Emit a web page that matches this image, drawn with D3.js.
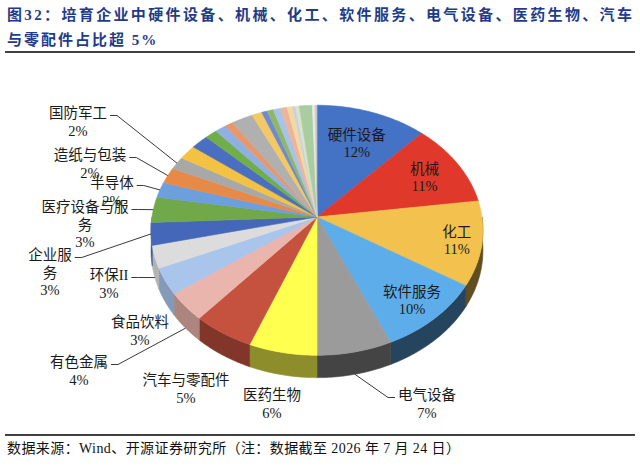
<!DOCTYPE html>
<html>
<head>
<meta charset="utf-8">
<script src="https://cdn.jsdelivr.net/npm/d3@7"></script>
<style>
  body { margin: 0; background: #fff; }
  text { font-family: "Liberation Serif", "Noto Sans CJK SC", serif; }
</style>
</head>
<body>
<svg id="chart" width="640" height="468"></svg>
<script>
// labelled industries, clockwise from 12 o'clock
var names = ["硬件设备", "机械", "化工", "软件服务", "电气设备", "医药生物", "汽车与零配件",
  "有色金属", "食品饮料", "环保II", "企业服务", "医疗设备与服务", "半导体", "造纸与包装", "国防军工"];
var values = [12.0, 10.9, 10.9, 9.6, 6.6, 6.0, 5.4, 3.7, 3.4, 2.9, 2.9, 3.3, 2.0, 2.1, 1.7];
var colors = ["#4472C4", "#E0392B", "#F3C24E", "#5DADEB", "#9B9B9B", "#FFFF4F", "#C4523E",
  "#E9B5AC", "#A9C5EC", "#DCDCDC", "#4467BA", "#70A84A", "#6C9FDC", "#E78A48", "#A8A8A8"];

// small unlabelled slices that follow (top-left of the pie)
var minorValues = [1.9, 1.9, 1.3, 1.2, 0.9, 2.3, 1.1, 0.6, 0.7, 0.8, 0.7, 0.6, 0.3, 0.4, 1.4, 0.3, 0.2];
var minorColors = ["#F4C242", "#4A6FC0", "#72AD4C", "#8FB0E0", "#E9976A", "#B0B0B0", "#F3C865", "#6F8AD0",
  "#8DB86A", "#A9C2E8", "#EEB49A", "#F2D9A0", "#C4D1E8", "#D9E4C6", "#A9CCA0", "#E8E8E8", "#C8C8C8"];

var titleLines = ["图32：培育企业中硬件设备、机械、化工、软件服务、电气设备、医药生物、汽车",
  "与零配件占比超 5%"];
var sourceText = "数据来源：Wind、开源证券研究所（注：数据截至 2026 年 7 月 24 日）";

// label placement (layout only)
var insideR = { "硬件设备": 0.7, "机械": 0.76, "化工": 0.85, "软件服务": 0.82 };
var outside = {
  "电气设备":      { x: 427, y: 400, dir: -1, leader: true },
  "医药生物":      { x: 272, y: 400, leader: false },
  "汽车与零配件":  { x: 186, y: 385, leader: false },
  "有色金属":      { x: 79,  y: 367, dir: 1, leader: true },
  "食品饮料":      { x: 140, y: 327, leader: false },
  "环保II":        { x: 109, y: 280, dir: 1, leader: true },
  "企业服务":      { x: 50,  y: 260, dir: 1, leader: true, wrap: 3 },
  "医疗设备与服务": { x: 85, y: 212, dir: 1, leader: true, wrap: 6 },
  "半导体":        { x: 112, y: 188, dir: 1, leader: true },
  "造纸与包装":    { x: 90,  y: 160, dir: 1, leader: true },
  "国防军工":      { x: 78,  y: 118, dir: 1, leader: true }
};

var svg = d3.select("#chart");
svg.append("rect").attr("width", 640).attr("height", 468).attr("fill", "#fff");

// title
var title = svg.append("g").attr("fill", "#1F3C88").attr("font-weight", "bold").attr("font-size", 15);
title.append("text").attr("x", 7).attr("y", 20)
  .attr("textLength", 625).attr("lengthAdjust", "spacing").text(titleLines[0]);
title.append("text").attr("x", 7).attr("y", 45).attr("letter-spacing", 2).text(titleLines[1]);
svg.append("line").attr("x1", 5).attr("x2", 635).attr("y1", 52).attr("y2", 52)
  .attr("stroke", "#000").attr("stroke-width", 1.5);

// source
svg.append("line").attr("x1", 5).attr("x2", 635).attr("y1", 435).attr("y2", 435)
  .attr("stroke", "#000").attr("stroke-width", 1.5);
svg.append("text").attr("x", 7).attr("y", 453).attr("font-size", 14).attr("fill", "#111")
  .attr("textLength", 453).attr("lengthAdjust", "spacing").text(sourceText);

// pie geometry: tilted disc with a bit of perspective
var cx = 317, cy = 217, RX = 165, RY = 123.6, K = 0.106, DEPTH = 20;
var xScale = d3.scaleLinear().domain([-1, 1]).range([cx - RX, cx + RX]);
var yScale = d3.scaleLinear().domain([-1, 1]).range([cy - RY, cy + RY]);

function proj(a, r, dz) {
  var u = r * Math.sin(a), v = -r * Math.cos(a), s = 1 / (1 - K * v);
  return [xScale(u * s), yScale(v * s) + (dz || 0) * s];
}
function rim(a0, a1, dz) {
  var n = Math.max(2, Math.ceil((a1 - a0) / (Math.PI / 360))), pts = [];
  for (var i = 0; i <= n; i++) pts.push(proj(a0 + (a1 - a0) * i / n, 1, dz));
  return pts;
}
function shade(color, a) {
  var f = Math.max(0.4, Math.min(0.85, 0.55 - 0.3 * Math.sin(a - Math.PI / 18)));
  var c = d3.rgb(color);
  return d3.rgb(c.r * f, c.g * f, c.b * f).formatHex();
}

var slices = names.map(function(n, i) { return { name: n, value: values[i], color: colors[i] }; })
  .concat(minorValues.map(function(v, i) { return { name: null, value: v, color: minorColors[i] }; }));
var total = d3.sum(slices, function(d) { return d.value; });
var pct = d3.format(".0%");

var arcs = d3.pie().sort(null).value(function(d) { return d.value; })(slices);
var line = d3.line();

// side wall (front half only)
var sides = svg.append("g");
arcs.forEach(function(d) {
  var a0 = Math.max(d.startAngle, Math.PI / 2), a1 = Math.min(d.endAngle, 3 * Math.PI / 2);
  if (a1 <= a0) return;
  var pts = rim(a0, a1, 0).concat(rim(a0, a1, DEPTH).reverse());
  var col = shade(d.data.color, (a0 + a1) / 2);
  sides.append("path").attr("d", line(pts) + "Z")
    .attr("fill", col).attr("stroke", col).attr("stroke-width", 0.6);
});

// top face
var tops = svg.append("g");
arcs.forEach(function(d) {
  var pts = [[cx, cy]].concat(rim(d.startAngle, d.endAngle, 0));
  tops.append("path").attr("d", line(pts) + "Z")
    .attr("fill", d.data.color).attr("stroke", d.data.color).attr("stroke-width", 0.6);
});

// labels
var labels = svg.append("g").attr("font-size", 14.5).attr("fill", "#1a1a1a");
arcs.forEach(function(d) {
  var name = d.data.name;
  if (!name) return;
  var mid = (d.startAngle + d.endAngle) / 2;
  var p = pct(d.data.value / total);

  if (insideR[name]) {
    var c = proj(mid, insideR[name], 0);
    var t = labels.append("text").attr("text-anchor", "middle");
    t.append("tspan").attr("x", c[0]).attr("y", c[1] - 2).text(name);
    t.append("tspan").attr("x", c[0]).attr("y", c[1] + 15).text(p);
    return;
  }

  var o = outside[name];
  var rows = [];
  if (o.wrap) {
    for (var i = 0; i < name.length; i += o.wrap) rows.push(name.slice(i, i + o.wrap));
  } else rows.push(name);
  rows.push(p);

  var t = labels.append("text").attr("text-anchor", "middle");
  var first;
  rows.forEach(function(r, i) {
    var ts = t.append("tspan").attr("x", o.x).attr("y", o.y + i * 17.5).text(r);
    if (i === 0) first = ts;
  });

  if (o.leader) {
    var w = first.node().getComputedTextLength();
    var x0 = o.x + o.dir * (w / 2 + 3), y0 = o.y - 2.5;
    var x1 = x0 + o.dir * 7;
    var v = -Math.cos(mid);
    var end = proj(mid, 1, v > 0.2 ? DEPTH : 0);
    svg.append("path").attr("d", line([[x0, y0], [x1, y0], end]))
      .attr("fill", "none").attr("stroke", "#3a3a3a").attr("stroke-width", 1);
  }
});
</script>
</body>
</html>
